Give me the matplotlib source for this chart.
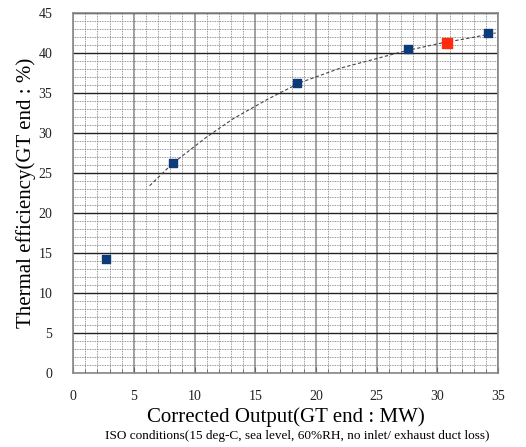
import matplotlib
matplotlib.use('Agg')
import matplotlib.pyplot as plt
from matplotlib.ticker import MultipleLocator

# Measured points (GT end)
output_mw = [2.7, 8.2, 18.4, 27.6, 34.2]
efficiency = [14.25, 26.3, 36.2, 40.5, 42.5]

# Highlighted point (red)
red_mw = [30.8]
red_eff = [41.2]

# Trend line
trend_mw = [6.3, 8.2, 11.0, 13.2, 16.0, 18.7, 22.0, 25.0, 27.2, 30.2, 32.4, 34.8]
trend_eff = [23.4, 26.2, 29.5, 31.8, 34.2, 36.3, 38.1, 39.3, 40.2, 41.2, 41.8, 42.5]

plt.rcParams['font.family'] = ['Liberation Serif', 'DejaVu Serif']

fig = plt.figure(figsize=(5.26, 4.47), dpi=100)
ax = fig.add_axes([0.139, 0.1655, 0.808, 0.8055])

ax.set_xlim(0, 35)
ax.set_ylim(0, 45)
ax.xaxis.set_major_locator(MultipleLocator(5))
ax.yaxis.set_major_locator(MultipleLocator(5))
ax.xaxis.set_minor_locator(MultipleLocator(1))
ax.yaxis.set_minor_locator(MultipleLocator(1))

# Grid like graph paper
ax.grid(which='minor', color='#777777', linestyle=(0, (1, 1)), linewidth=0.6)
ax.grid(which='major', axis='x', color='#888888', linestyle='-', linewidth=1.1)
ax.grid(which='major', axis='y', color='#222222', linestyle='-', linewidth=1.0)
ax.set_axisbelow(True)

for s in ax.spines.values():
    s.set_color('#888888')
    s.set_linewidth(1.2)

ax.tick_params(which='both', direction='in', length=4, color='#666666',
               labelsize=10, labelcolor='#222222', pad=12)
ax.tick_params(which='minor', length=3)
ax.tick_params(axis='y', which='both', length=0, pad=15)

# Trend line and points
ax.plot(trend_mw, trend_eff, color='#444444', linestyle=(0, (3, 2)),
        linewidth=0.8, zorder=3)
ax.scatter(output_mw, efficiency, marker='s', s=36, color='#0d3b7a', zorder=4)
ax.scatter(red_mw, red_eff, marker='s', s=48, color='#ff2a10', zorder=4)

ax.set_xlabel("Corrected Output(GT end : MW)", fontsize=15, labelpad=3)
ax.set_ylabel("Thermal efficiency(GT end : %)", fontsize=15, labelpad=2)

fig.text(0.565, 0.018, "ISO conditions(15 deg-C, sea level, 60%RH, no inlet/ exhaust duct loss)",
         ha='center', fontsize=9.5)

fig.savefig('out.png', dpi=100)
